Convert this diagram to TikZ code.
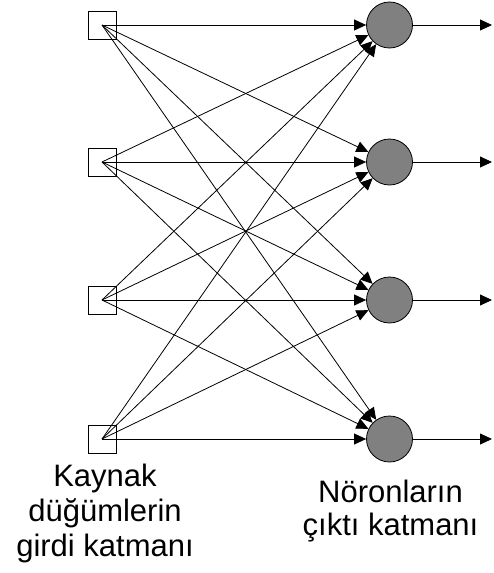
\documentclass[tikz,border=0pt]{standalone}
\usepackage{fontspec}
\setmainfont{Liberation Sans}
\usetikzlibrary{arrows.meta}
\begin{document}
\begin{tikzpicture}[x=1pt,y=-1pt,
  link/.style={line width=0.8pt,-{Triangle[length=12pt,width=11pt]}},
  srcbox/.style={draw,line width=0.8pt,minimum size=28pt,inner sep=0pt},
  neuron/.style={circle,draw,line width=0.8pt,fill=black!50,minimum size=46pt,inner sep=0pt},
  caption/.style={align=center,inner sep=0pt,anchor=base}]
  \useasboundingbox (0,0) rectangle (493,573);
  % input (source) nodes and output neurons
  \foreach \i/\y in {1/25,2/162,3/300,4/439}{
    \node[srcbox] (s\i) at (102,\y) {};
    \node[neuron] (n\i) at (389.5,\y) {};
    \coordinate (o\i) at (492,\y);
  }
  % full connections from every source to every neuron
  \foreach \i in {1,...,4}{
    \foreach \j in {1,...,4}{
      \draw[link] (s\i.center) -- (n\j);
    }
    \draw[link] (n\i) -- (o\i);
  }
  % layer captions (base anchor sits on the last line)
  \node[caption,font=\fontsize{31}{35}\selectfont] (lin) at (105,556.7)
    {Kaynak\\düğümlerin\\girdi katmanı};
  \node[caption,font=\fontsize{31}{33}\selectfont] (lout) at (390.5,535)
    {Nöronların\\çıktı katmanı};
\end{tikzpicture}
\end{document}
